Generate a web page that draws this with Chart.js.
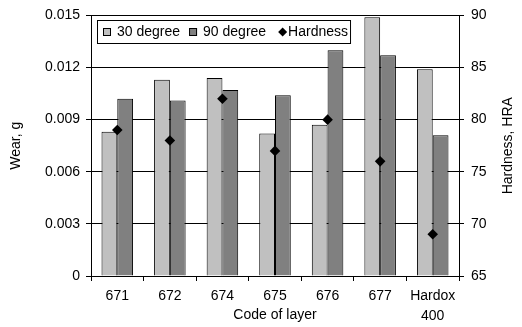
<!DOCTYPE html>
<html><head><meta charset="utf-8">
<script src="https://cdn.jsdelivr.net/npm/chart.js@4"></script>
<style>html,body{margin:0;padding:0;background:#fff;} #wrap{width:522px;height:327px;position:relative;}</style>
</head><body><div id="wrap"><canvas id="c" width="522" height="327"></canvas></div>
<script>
const categories = ['671', '672', '674', '675', '676', '677', ['Hardox', '400']];
const wear30 = [0.0083, 0.0113, 0.0114, 0.0082, 0.0087, 0.0149, 0.0119];
const wear90 = [0.0102, 0.0101, 0.0107, 0.0104, 0.0130, 0.0127, 0.0081];
const hardness = [79, 78, 82, 77, 80, 76, 69];
const wearTicks = [0, 0.003, 0.006, 0.009, 0.012, 0.015];
const hardnessTicks = [65, 70, 75, 80, 85, 90];
const seriesNames = ['30 degree', '90 degree', 'Hardness'];
const xTitle = 'Code of layer';
const yTitle = 'Wear, g';
const y2Title = 'Hardness, HRA';

const FONT = "'Liberation Sans', Arial, sans-serif";
Chart.defaults.font.family = FONT;
Chart.defaults.font.size = 14;
Chart.defaults.color = '#000';

const legendPlugin = {
  id: 'boxLegend',
  afterDatasetsDraw(chart) {
    const ctx = chart.ctx;
    ctx.save();
    ctx.font = '14px ' + FONT;
    const left = 97, top = 20, h = 23;
    const cy = top + h / 2 + 0.5;
    let x = left + 6;
    const items = chart.data.datasets.map(ds => ({
      text: ds.label, diamond: ds.type === 'line', color: ds.backgroundColor
    }));
    const layout = [];
    items.forEach(it => {
      const w = ctx.measureText(it.text).width;
      if (it.diamond) {
        layout.push({it, mx: x + 3, tx: x + 13});
        x = x + 13 + w;
      } else {
        layout.push({it, mx: x, tx: x + 14});
        x = x + 14 + w + 9;
      }
    });
    const right = x + 2;
    ctx.fillStyle = '#fff';
    ctx.fillRect(left, top, right - left, h);
    ctx.strokeStyle = '#000';
    ctx.lineWidth = 1;
    ctx.strokeRect(left + 0.5, top + 0.5, right - left, h);
    layout.forEach(({it, mx, tx}) => {
      if (it.diamond) {
        const cx = mx + 4.5;
        ctx.fillStyle = '#000';
        ctx.beginPath();
        ctx.moveTo(cx, cy - 4.5); ctx.lineTo(cx + 4.5, cy); ctx.lineTo(cx, cy + 4.5); ctx.lineTo(cx - 4.5, cy);
        ctx.closePath(); ctx.fill();
      } else {
        ctx.fillStyle = it.color;
        ctx.fillRect(mx, cy - 4, 8, 8);
        ctx.strokeStyle = '#000';
        ctx.strokeRect(mx + 0.5, cy - 3.5, 7, 7);
      }
      ctx.fillStyle = '#000';
      ctx.textBaseline = 'middle';
      ctx.textAlign = 'left';
      ctx.fillText(it.text, tx, cy);
    });
    ctx.restore();
  }
};

const rightTitlePlugin = {
  id: 'rightTitle',
  afterDraw(chart) {
    const ctx = chart.ctx;
    const a = chart.chartArea;
    ctx.save();
    ctx.font = '14px ' + FONT;
    ctx.fillStyle = '#000';
    ctx.translate(508, (a.top + a.bottom) / 2);
    ctx.rotate(-Math.PI / 2);
    ctx.textAlign = 'center';
    ctx.textBaseline = 'middle';
    ctx.fillText(y2Title, 0, 0);
    ctx.restore();
  }
};

new Chart(document.getElementById('c'), {
  data: {
    labels: categories,
    datasets: [
      { type: 'bar', label: seriesNames[0], data: wear30, yAxisID: 'y',
        backgroundColor: '#c0c0c0', borderColor: '#000', borderWidth: 1, order: 1,
        categoryPercentage: 0.6, barPercentage: 1 },
      { type: 'bar', label: seriesNames[1], data: wear90, yAxisID: 'y',
        backgroundColor: '#808080', borderColor: '#000', borderWidth: 1, order: 1,
        categoryPercentage: 0.6, barPercentage: 1 },
      { type: 'line', label: seriesNames[2], data: hardness, yAxisID: 'y2',
        showLine: false, pointStyle: 'rectRot', pointRadius: 5.3, pointBorderWidth: 0,
        backgroundColor: '#000', borderColor: '#000', order: 0 }
    ]
  },
  options: {
    responsive: false,
    animation: false,
    devicePixelRatio: 1,
    layout: { padding: { left: 0, right: 0, top: 15, bottom: 0 } },
    plugins: { legend: { display: false }, tooltip: { enabled: false } },
    scales: {
      x: {
        position: 'bottom',
        offset: true,
        grid: { offset: true, drawOnChartArea: false, drawTicks: true, tickLength: 5, color: '#000' },
        border: { color: '#000' },
        ticks: { padding: 5, font: { size: 14, lineHeight: 1.43 }, maxRotation: 0, autoSkip: false },
        title: { display: true, text: xTitle, font: { size: 14 }, padding: { top: 0, bottom: 3 } },
        afterFit(s) { s.height = 51; }
      },
      y: {
        position: 'left',
        min: 0, max: 0.015,
        afterBuildTicks(s) { s.ticks = wearTicks.map(v => ({ value: v })); },
        ticks: { padding: 6, callback: v => v === 0 ? '0' : v.toFixed(3) },
        grid: { color: '#000', tickLength: 5, drawTicks: true },
        border: { color: '#000' },
        title: { display: true, text: yTitle, font: { size: 14 }, padding: { top: 8, bottom: 0 } },
        afterFit(s) { s.width = 91; }
      },
      y2: {
        position: 'right',
        min: 65, max: 90,
        afterBuildTicks(s) { s.ticks = hardnessTicks.map(v => ({ value: v })); },
        ticks: { padding: 7 },
        grid: { drawOnChartArea: false, color: '#000', tickLength: 5, drawTicks: true },
        border: { color: '#000' },
        afterFit(s) { s.width = 63; }
      }
    }
  },
  plugins: [legendPlugin, rightTitlePlugin]
});
</script></body></html>
